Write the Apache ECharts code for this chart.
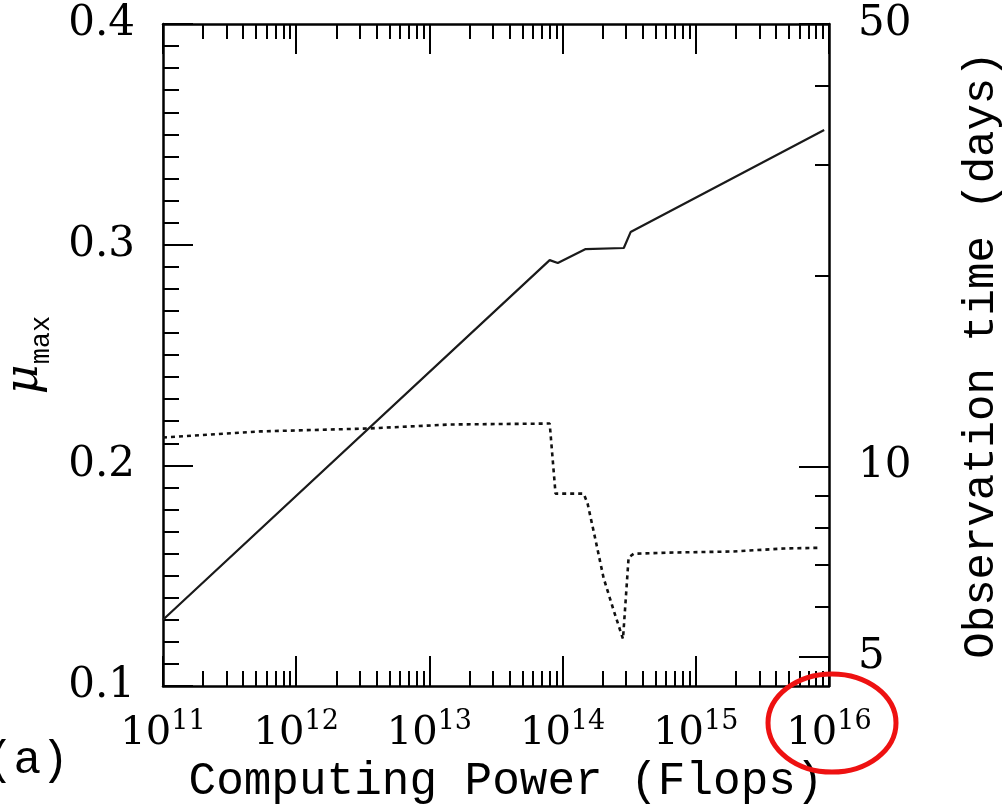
<!DOCTYPE html>
<html>
<head>
<meta charset="utf-8">
<script src="https://cdn.jsdelivr.net/npm/echarts@6/dist/echarts.min.js"></script>
<style>
  html, body { margin: 0; padding: 0; background: #fff; }
  #chart { width: 1007px; height: 806px; }
</style>
</head>
<body>
<div id="chart"></div>
<script>
// solid line: mu_max against computing power (left axis)
const powerSolid = [1.0e11, 8.0e13, 9.2e13, 1.49e14, 2.88e14, 3.24e14, 9.2e15];
const muMax = [0.130, 0.293, 0.2917, 0.298, 0.2985, 0.3057, 0.352];

// dotted line: observation time in days (right axis, log)
const powerDotted = [1.0e11, 5.4e11, 3.4e12, 1.44e13, 8.0e13, 8.85e13, 1.44e14, 1.54e14,
  1.77e14, 2.03e14, 2.42e14, 2.84e14, 3.13e14, 3.42e14, 6.2e14, 1.9e15, 4.6e15, 8.7e15];
const obsDays = [11.11, 11.36, 11.48, 11.65, 11.69, 9.06, 9.06, 8.74,
  7.64, 6.67, 5.92, 5.34, 7.18, 7.28, 7.31, 7.34, 7.42, 7.44];

// ticks
const xDecades = [1e11, 1e12, 1e13, 1e14, 1e15, 1e16];
const xMantissas = [2, 3, 4, 5, 6, 7, 8, 9];
const muMajor = [0.1, 0.2, 0.3, 0.4];
const muMinor = [0.11, 0.12, 0.13, 0.14, 0.15, 0.16, 0.17, 0.18, 0.19,
  0.21, 0.22, 0.23, 0.24, 0.25, 0.26, 0.27, 0.28, 0.29,
  0.31, 0.32, 0.33, 0.34, 0.35, 0.36, 0.37, 0.38, 0.39];
const daysMajor = [5, 10, 50];
const daysMinor = [6, 7, 8, 9, 20, 30, 40];

const xMinor = [];
xDecades.slice(0, -1).forEach(d => xMantissas.forEach(m => xMinor.push(m * d)));

const ink = '#000';
const digitFont = 'DejaVu Serif';
const nameFont = 'Liberation Mono';

const zip = (xs, ys) => xs.map((x, i) => [x, ys[i]]);

function xAxisDef(pos, ticks, len, withLine, withLabel) {
  return {
    type: 'log', logBase: 10, min: 1e11, max: 1e16, position: pos,
    axisLine: { show: withLine, onZero: false, lineStyle: { color: ink, width: 2.5 } },
    axisTick: { show: true, inside: true, length: len, customValues: ticks,
      lineStyle: { color: ink, width: 2 } },
    axisLabel: withLabel ? {
      show: true, customValues: xDecades, margin: 22,
      formatter: v => '{b|10}{s|' + Math.round(Math.log10(v)) + '}',
      rich: {
        b: { fontFamily: digitFont, fontSize: 40, color: ink, verticalAlign: 'bottom', lineHeight: 46 },
        s: { fontFamily: digitFont, fontSize: 27, color: ink, verticalAlign: 'top', lineHeight: 46 }
      }
    } : { show: false },
    splitLine: { show: false },
    minorTick: { show: false }
  };
}

const chart = echarts.init(document.getElementById('chart'), null, { renderer: 'canvas' });
chart.setOption({
  animation: false,
  backgroundColor: '#fff',
  grid: { left: 163, right: 178, top: 24, bottom: 120, containLabel: false, outerBoundsMode: 'none' },
  xAxis: [
    Object.assign(xAxisDef('bottom', xDecades, 30, true, true), {
      name: 'Computing Power (Flops)', nameLocation: 'middle', nameGap: 68,
      nameTextStyle: { fontFamily: nameFont, fontSize: 46, color: ink, padding: [0, 0, 0, 20] }
    }),
    xAxisDef('bottom', xMinor, 15, false, false),
    xAxisDef('top', xDecades, 30, true, false),
    xAxisDef('top', xMinor, 15, false, false)
  ],
  yAxis: [
    {
      type: 'value', min: 0.1, max: 0.4, position: 'left',
      axisLine: { show: true, onZero: false, lineStyle: { color: ink, width: 2.5 } },
      axisTick: { show: true, inside: true, length: 30, customValues: muMajor, lineStyle: { color: ink, width: 2 } },
      axisLabel: { show: true, customValues: muMajor, margin: 28, formatter: v => v.toFixed(1),
        fontFamily: digitFont, fontSize: 42, color: ink },
      splitLine: { show: false },
      name: '{mu|μ}{sub|max}', nameLocation: 'middle', nameRotate: 90, nameGap: 108,
      nameTextStyle: {
        rich: {
          mu: { fontFamily: 'DejaVu Serif', fontStyle: 'italic', fontSize: 46, color: ink, verticalAlign: 'middle', lineHeight: 60 },
          sub: { fontFamily: nameFont, fontSize: 27, color: ink, verticalAlign: 'bottom', lineHeight: 60 }
        }
      }
    },
    {
      type: 'value', min: 0.1, max: 0.4, position: 'left',
      axisLine: { show: false },
      axisTick: { show: true, inside: true, length: 16, customValues: muMinor, lineStyle: { color: ink, width: 2 } },
      axisLabel: { show: false },
      splitLine: { show: false }
    },
    {
      type: 'log', logBase: 10, min: 4.5, max: 50, position: 'right',
      axisLine: { show: true, onZero: false, lineStyle: { color: ink, width: 2.5 } },
      axisTick: { show: true, inside: true, length: 30, customValues: daysMajor, lineStyle: { color: ink, width: 2 } },
      axisLabel: { show: true, customValues: daysMajor, margin: 29, formatter: v => String(Math.round(v)),
        fontFamily: digitFont, fontSize: 42, color: ink },
      splitLine: { show: false },
      minorTick: { show: false },
      name: 'Observation time (days)', nameLocation: 'middle', nameRotate: 90, nameGap: 130,
      nameTextStyle: { fontFamily: nameFont, fontSize: 44, color: ink }
    },
    {
      type: 'log', logBase: 10, min: 4.5, max: 50, position: 'right',
      axisLine: { show: false },
      axisTick: { show: true, inside: true, length: 14, customValues: daysMinor, lineStyle: { color: ink, width: 2 } },
      axisLabel: { show: false },
      splitLine: { show: false },
      minorTick: { show: false }
    }
  ],
  graphic: [
    { type: 'text', left: -14, top: 738, style: { text: '(a)', fontFamily: nameFont, fontSize: 46, fill: ink } },
    // red highlight ring round the 10^16 label
    { type: 'ellipse', shape: { cx: 832, cy: 723, rx: 64, ry: 49 }, z: 100,
      style: { fill: 'none', stroke: '#ee1111', lineWidth: 5 } }
  ],
  series: [
    {
      type: 'line', xAxisIndex: 0, yAxisIndex: 0, data: zip(powerSolid, muMax),
      showSymbol: false, symbol: 'none', lineStyle: { color: '#1a1a1a', width: 2.2 }
    },
    {
      type: 'line', xAxisIndex: 0, yAxisIndex: 2, data: zip(powerDotted, obsDays),
      showSymbol: false, symbol: 'none', lineStyle: { color: '#111', width: 2.6, type: [4, 4] }
    }
  ]
});
</script>
</body>
</html>
